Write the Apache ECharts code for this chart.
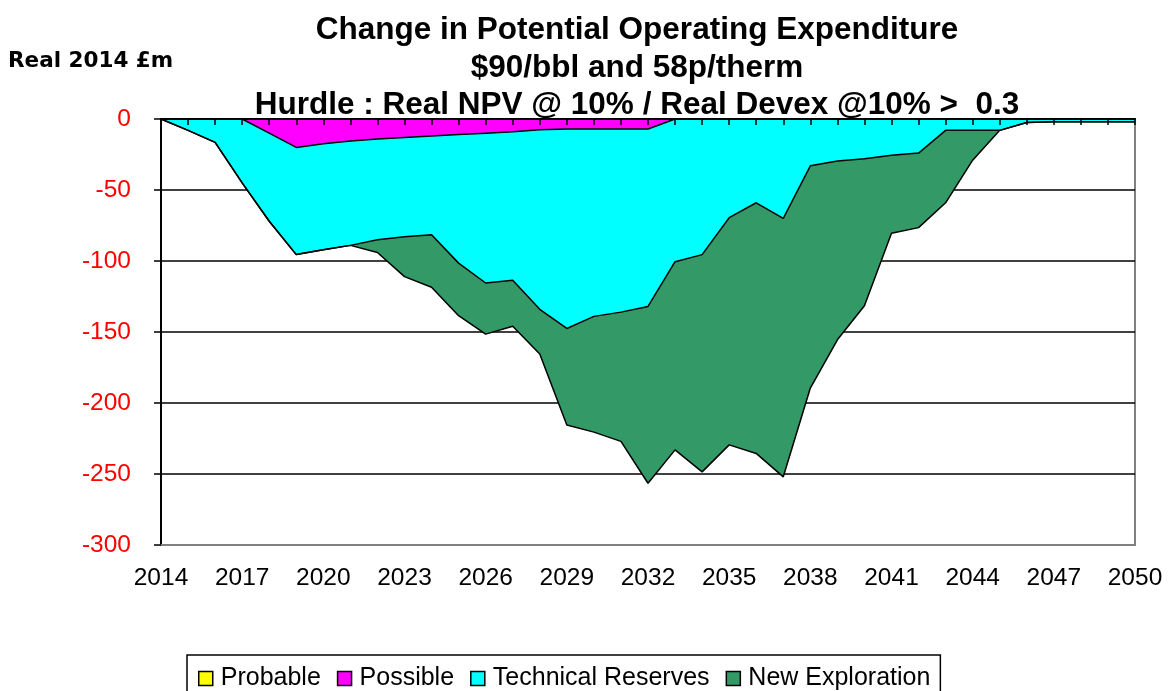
<!DOCTYPE html>
<html>
<head>
<meta charset="utf-8">
<script src="https://cdn.jsdelivr.net/npm/echarts@6/dist/echarts.min.js"></script>
<style>
  html, body { margin: 0; padding: 0; background: #fff; }
  #chart { width: 1168px; height: 691px; }
</style>
</head>
<body>
<div id="chart"></div>
<script>
const years = ['2014','2015','2016','2017','2018','2019','2020','2021','2022','2023','2024','2025','2026',
  '2027','2028','2029','2030','2031','2032','2033','2034','2035','2036','2037','2038','2039','2040',
  '2041','2042','2043','2044','2045','2046','2047','2048','2049','2050']

const probable = [0,0,0,0,0,0,0,0,0,0,0,0,0,0,0,0,0,0,0,0,0,0,0,0,0,0,0,0,0,0,0,0,0,0,0,0,0]

const possible = [0,0,0,0,-10,-20,-17.5,-15.5,-14,-13,-12,-11,-10,-9,-7.5,-7,-7,-7,-7,
  0,0,0,0,0,0,0,0,0,0,0,0,0,0,0,0,0,0]

const technicalReserves = [0,-8,-16.5,-45,-62,-75.5,-74.5,-73.5,-71,-70,-69.5,-90.5,-105.5,-104.5,
  -126.5,-140.5,-132,-129,-125,-100.5,-95.5,-69.5,-59,-70,-33,-29.5,-28,-25.5,-24,-8,-8,-8,
  -2.5,-2,-2,-2,-2]

const newExploration = [0,0,0,0,0,0,0,0,-9,-28,-37,-37,-36,-32.5,-31.5,-68,-81.5,-91,-124.5,
  -132.5,-153,-160,-176.5,-182,-156.5,-126,-103.5,-55,-52.5,-51,-21,0,0,0,0,0,0]

const titleLines = [
  'Change in Potential Operating Expenditure',
  '$90/bbl and 58p/therm',
  'Hurdle : Real NPV @ 10% / Real Devex @10% >  0.3'
]
const unitLabel = 'Real 2014 £m'

const font = '"Liberation Sans", Arial, sans-serif'

function areaSeries(name, data, color) {
  return {
    name,
    type: 'line',
    stack: 'total',
    data,
    color,
    showSymbol: false,
    symbol: 'none',
    lineStyle: { color: '#000', width: 1.5 },
    areaStyle: { color, opacity: 1 },
    emphasis: { disabled: true }
  }
}

const chart = echarts.init(document.getElementById('chart'))

chart.setOption({
  backgroundColor: '#fff',
  animation: false,
  textStyle: { fontFamily: font },
  graphic: [
    {
      type: 'text',
      x: 637,
      y: 12,
      style: {
        text: titleLines.join('\n'),
        fontFamily: font,
        fontWeight: 'bold',
        fontSize: 31.5,
        lineHeight: 37.5,
        textAlign: 'center',
        textVerticalAlign: 'top',
        fill: '#000'
      }
    },
    {
      type: 'text',
      x: 8,
      y: 61,
      style: {
        text: unitLabel,
        fontFamily: '"DejaVu Sans", sans-serif',
        fontWeight: 'bold',
        fontSize: 21.5,
        textVerticalAlign: 'middle',
        fill: '#000'
      }
    }
  ],
  grid: {
    left: 161,
    right: 33,
    top: 119,
    bottom: 146,
    show: true,
    borderColor: '#808080',
    borderWidth: 2,
    backgroundColor: 'transparent'
  },
  legend: {
    left: 187,
    top: 655,
    icon: 'rect',
    itemWidth: 14,
    itemHeight: 14,
    itemGap: 16,
    padding: [11, 10, 10, 11],
    borderColor: '#000',
    borderWidth: 1.5,
    itemStyle: { borderColor: '#000', borderWidth: 1.5 },
    textStyle: { fontSize: 25, color: '#000', fontFamily: font, padding: [0, 0, 0, 3] },
    data: ['Probable', 'Possible', 'Technical Reserves', 'New Exploration']
  },
  xAxis: [
    {
      type: 'category',
      data: years,
      boundaryGap: false,
      position: 'bottom',
      axisLine: { onZero: false, lineStyle: { color: '#808080', width: 2 } },
      axisTick: { show: false },
      axisLabel: { interval: 2, fontSize: 24.5, color: '#000', margin: 21, fontFamily: font },
      splitLine: { show: false }
    },
    {
      type: 'category',
      data: years,
      boundaryGap: false,
      position: 'top',
      z: 10,
      axisLine: { onZero: false, lineStyle: { color: '#000', width: 2 } },
      axisTick: { show: true, inside: true, length: 6, interval: 0, lineStyle: { color: '#000', width: 1.5 } },
      axisLabel: { show: false },
      splitLine: { show: false }
    }
  ],
  yAxis: {
    type: 'value',
    min: -300,
    max: 0,
    interval: 50,
    axisLine: { show: true, lineStyle: { color: '#000', width: 2 } },
    axisTick: { show: true, length: 7, lineStyle: { color: '#000', width: 1.5 } },
    axisLabel: { fontSize: 24.5, color: '#FF0000', margin: 30, fontFamily: font },
    splitLine: { show: true, lineStyle: { color: '#000', width: 1.5 } }
  },
  series: [
    areaSeries('Probable', probable, '#FFFF00'),
    areaSeries('Possible', possible, '#FF00FF'),
    areaSeries('Technical Reserves', technicalReserves, '#00FFFF'),
    areaSeries('New Exploration', newExploration, '#339966')
  ]
})
</script>
</body>
</html>
